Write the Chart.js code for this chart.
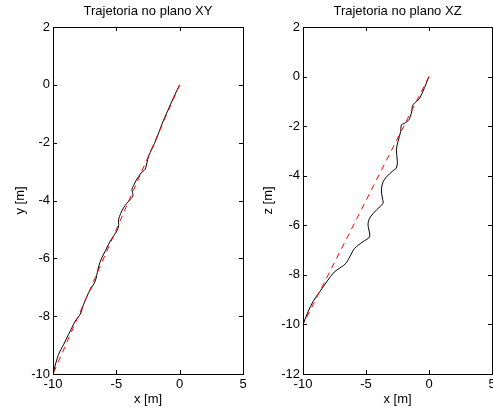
<!DOCTYPE html>
<html>
<head>
<meta charset="utf-8">
<script src="https://cdn.jsdelivr.net/npm/chart.js@4/dist/chart.umd.min.js"></script>
<style>
  html, body { margin: 0; padding: 0; background: #fff; overflow: hidden; }
  canvas { position: absolute; top: 0; }
  #chartXY { left: 0; }
  #chartXZ { left: 250px; }
</style>
</head>
<body>
<canvas id="chartXY" width="250" height="411"></canvas>
<canvas id="chartXZ" width="250" height="411"></canvas>
<script>
// trajectory (metres)
const xyX = [0, -0.48, -0.95, -1.40, -1.79, -2.19, -2.45, -2.58, -2.72, -3.05, -3.43, -3.64, -3.77, -3.69, -3.90, -4.43, -4.82, -4.82, -4.95, -5.48, -5.87, -6.13, -6.30, -6.45, -6.66, -7.19, -7.58, -7.85, -8.24, -8.77, -9.16, -9.56, -9.95, -10];
const xyY = [0, -0.44, -0.90, -1.36, -1.82, -2.22, -2.46, -2.69, -2.92, -3.05, -3.30, -3.49, -3.61, -3.84, -3.96, -4.25, -4.65, -4.88, -5.05, -5.40, -5.74, -5.97, -6.15, -6.38, -6.78, -7.19, -7.59, -7.93, -8.17, -8.63, -8.98, -9.32, -9.90, -10];

const xzX = [0, -0.74, -1.27, -1.40, -1.59, -1.93, -2.19, -2.25, -2.46, -2.59, -2.51, -2.59, -2.86, -3.38, -3.65, -3.78, -3.70, -3.65, -4.17, -4.71, -4.84, -4.71, -5.24, -5.90, -6.29, -6.62, -7.30, -7.62, -8.02, -8.67, -9.21, -9.60, -10];
const xzZ = [0, -0.87, -1.14, -1.47, -1.74, -1.88, -1.95, -2.22, -2.62, -2.96, -3.43, -3.69, -3.80, -4.05, -4.25, -4.57, -4.90, -5.11, -5.38, -5.71, -5.98, -6.46, -6.66, -6.93, -7.27, -7.55, -7.80, -7.94, -8.21, -8.68, -9.08, -9.49, -10];

// reference (desired) path
const refX = [0, -10];
const refY = [0, -10];
const refZ = [0, -10];

const xTicks = [-10, -5, 0, 5];
const yTicksXY = [-10, -8, -6, -4, -2, 0, 2];
const zTicksXZ = [-12, -10, -8, -6, -4, -2, 0, 2];

Chart.defaults.font.family = "'Liberation Sans', Arial, sans-serif";
Chart.defaults.font.size = 13;
Chart.defaults.color = "#000";

const TICK = 4;

// matlab style box with inward ticks on all four sides
const boxTicks = {
  id: "boxTicks",
  afterDatasetsDraw(chart) {
    const { ctx, chartArea: a, scales } = chart;
    ctx.save();
    ctx.strokeStyle = "#000";
    ctx.lineWidth = 1;
    ctx.beginPath();
    scales.x.ticks.forEach((t) => {
      const px = Math.round(scales.x.getPixelForValue(t.value)) + 0.5;
      ctx.moveTo(px, a.bottom);
      ctx.lineTo(px, a.bottom - TICK);
      ctx.moveTo(px, a.top);
      ctx.lineTo(px, a.top + TICK);
    });
    scales.y.ticks.forEach((t) => {
      const py = Math.round(scales.y.getPixelForValue(t.value)) + 0.5;
      ctx.moveTo(a.left, py);
      ctx.lineTo(a.left + TICK, py);
      ctx.moveTo(a.right, py);
      ctx.lineTo(a.right - TICK, py);
    });
    ctx.stroke();
    ctx.strokeRect(Math.round(a.left) + 0.5, Math.round(a.top) + 0.5,
      Math.round(a.right - a.left), Math.round(a.bottom - a.top));
    ctx.restore();
  },
};

function pts(xs, ys) {
  return xs.map((x, i) => ({ x: x, y: ys[i] }));
}

function makeChart(id, title, yLabel, yMin, yTicks, curveX, curveY, refYs, padRight, yTitlePad) {
  const config = {
    type: "scatter",
    data: {
      datasets: [
        {
          label: "referencia",
          data: pts(refX, refYs),
          showLine: true,
          borderColor: "#ff0000",
          borderWidth: 1,
          borderDash: [6, 5],
          pointRadius: 0,
          order: 0,
        },
        {
          label: "trajetoria",
          data: pts(curveX, curveY),
          showLine: true,
          borderColor: "#000",
          borderWidth: 1,
          tension: 0.3,
          pointRadius: 0,
          order: 1,
        },
      ],
    },
    options: {
      responsive: false,
      animation: false,
      layout: { padding: { left: 0, right: padRight, top: 0, bottom: 0 } },
      plugins: { legend: { display: false }, tooltip: { enabled: false } },
      scales: {
        x: {
          type: "linear",
          position: "bottom",
          min: -10,
          max: 5,
          afterBuildTicks: (s) => { s.ticks = xTicks.map((v) => ({ value: v })); },
          afterFit: (s) => { s.height = 37; },
          grid: { display: false, drawTicks: false },
          border: { display: false },
          ticks: { padding: 3, maxRotation: 0 },
          title: { display: true, text: "x [m]", padding: { top: 0, bottom: 4 } },
        },
        x2: {
          type: "linear",
          position: "top",
          min: -10,
          max: 5,
          afterFit: (s) => { s.height = 27; },
          grid: { display: false, drawTicks: false },
          border: { display: false },
          ticks: { display: false },
          title: { display: true, text: title, padding: { top: 4, bottom: 0 } },
        },
        y: {
          type: "linear",
          position: "left",
          min: yMin,
          max: 2,
          afterBuildTicks: (s) => { s.ticks = yTicks.map((v) => ({ value: v })); },
          afterFit: (s) => { s.width = 53; },
          grid: { display: false, drawTicks: false },
          border: { display: false },
          ticks: { padding: 3 },
          title: { display: true, text: yLabel, padding: { top: yTitlePad, bottom: 0 } },
        },
      },
    },
    plugins: [boxTicks],
  };
  return new Chart(document.getElementById(id), config);
}

const chartXY = makeChart("chartXY", "Trajetoria no plano XY", "y [m]", -10, yTicksXY, xyX, xyY, refY, 7, 12.5);
const chartXZ = makeChart("chartXZ", "Trajetoria no plano XZ", "z [m]", -12, zTicksXZ, xzX, xzZ, refZ, 8, 11);
</script>
</body>
</html>
